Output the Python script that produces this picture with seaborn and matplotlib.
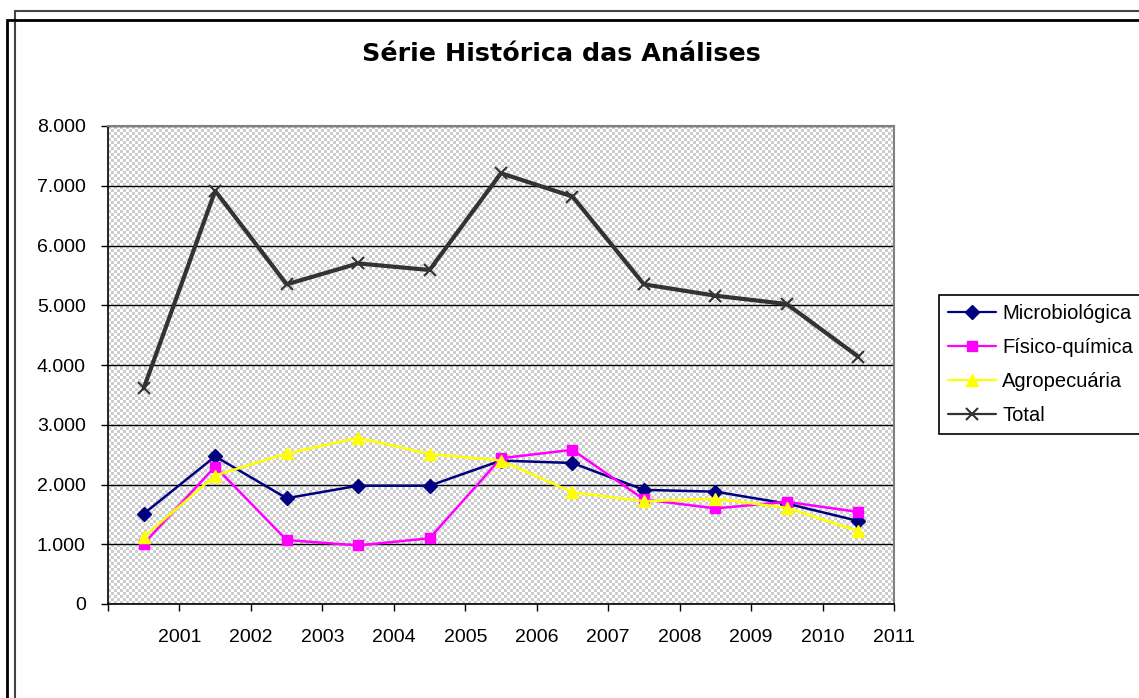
import numpy as np
import pandas as pd
import matplotlib
matplotlib.use("Agg")
import matplotlib.pyplot as plt
from matplotlib.patches import Rectangle
import seaborn as sns

# ---- data ----
years = ["2001", "2002", "2003", "2004", "2005", "2006", "2007", "2008", "2009", "2010", "2011"]
microbiologica = [1510, 2470, 1770, 1980, 1980, 2400, 2360, 1910, 1880, 1680, 1390]
fisico_quimica = [1010, 2300, 1070, 980, 1100, 2440, 2580, 1750, 1600, 1710, 1540]
agropecuaria = [1120, 2150, 2520, 2780, 2510, 2400, 1870, 1720, 1760, 1610, 1220]
total = [3610, 6915, 5350, 5700, 5590, 7210, 6820, 5350, 5160, 5020, 4140]
series_names = ["Microbiológica", "Físico-química", "Agropecuária", "Total"]

sns.set_style("white")
plt.rcParams['font.family'] = ['Liberation Sans', 'DejaVu Sans']
plt.rcParams['text.color'] = 'black'
plt.rcParams['xtick.color'] = 'black'
plt.rcParams['ytick.color'] = 'black'
plt.rcParams['axes.labelcolor'] = 'black'

W, H = 1139, 698
fig = plt.figure(figsize=(W / 100, H / 100), dpi=100)
fig.patch.set_facecolor("white")

def fx(px):
    return px / W

def fy(py):
    return 1 - py / H

# outer double frame
fig.patches.append(Rectangle((fx(15), fy(720)), fx(1160) - fx(15), fy(11) - fy(720),
                             transform=fig.transFigure, fill=False, edgecolor="#444444", lw=1.5, zorder=0))
fig.patches.append(Rectangle((fx(6.5), fy(720)), fx(1160) - fx(6.5), fy(19.5) - fy(720),
                             transform=fig.transFigure, fill=False, edgecolor="black", lw=2, zorder=0))

left, right, top, bottom = 108, 894, 126, 604
ax = fig.add_axes([fx(left), fy(bottom), fx(right) - fx(left), fy(top) - fy(bottom)])

# checkered background
nx, ny = (right - left) // 3, (bottom - top) // 3
checker = (np.add.outer(np.arange(ny), np.arange(nx)) % 2).astype(float)
ax.imshow(checker, cmap=matplotlib.colors.ListedColormap(["#cdcdcd", "#ffffff"]),
          extent=[0, 1, 0, 1], transform=ax.transAxes, aspect="auto",
          interpolation="nearest", zorder=0)

pos = np.arange(len(years))
df = pd.DataFrame({"pos": pos, series_names[0]: microbiologica, series_names[1]: fisico_quimica,
                   series_names[2]: agropecuaria, series_names[3]: total})

styles = [
    dict(color="#000080", marker="D", markersize=7, linewidth=1.8, mew=1),
    dict(color="#ff00ff", marker="s", markersize=7.5, linewidth=1.8, mew=1),
    dict(color="#ffff00", marker="^", markersize=9, linewidth=1.8, mew=1),
    dict(color="#333333", marker="x", markersize=9, linewidth=3, mew=1.5),
]
for name, st in zip(series_names, styles):
    sns.lineplot(data=df, x="pos", y=name, ax=ax, label=name, color=st["color"],
                 marker=st["marker"], markersize=st["markersize"], linewidth=st["linewidth"],
                 markeredgecolor=st["color"], markerfacecolor=st["color"],
                 markeredgewidth=st["mew"], zorder=3)

ax.set_ylim(0, 8000)
ax.set_yticks(np.arange(0, 8001, 1000))
ax.set_yticklabels(["0"] + [f"{v // 1000}.000" for v in range(1000, 8001, 1000)])
ax.set_xlabel("")
ax.set_ylabel("")
ax.yaxis.grid(True, color="black", linewidth=1)
ax.xaxis.grid(False)
ax.set_axisbelow(True)

ax.tick_params(axis="y", direction="out", length=5, width=1, color="black", pad=11, labelsize=14)
ax.tick_params(axis="x", direction="out", length=5, width=1, color="black", pad=13, labelsize=14)
ax.tick_params(left=True, bottom=True)
for s in ["left", "bottom"]:
    ax.spines[s].set_color("black")
    ax.spines[s].set_linewidth(1.2)
for s in ["top", "right"]:
    ax.spines[s].set_color("#808080")
    ax.spines[s].set_linewidth(1.5)

# year labels sit on the category boundaries
ax.set_xticks(np.arange(-0.5, len(years) + 0.5, 1.0))
ax.set_xticklabels([""] + years)
ax.set_xlim(-0.5, len(years) - 0.5)

fig.text(fx(561), fy(54), "Série Histórica das Análises", ha="center", va="center",
         fontsize=18.3, fontweight="bold", family=["DejaVu Sans"], color="black")

leg = ax.legend(loc="upper left", bbox_to_anchor=(fx(939), fy(295)), bbox_transform=fig.transFigure,
                frameon=True, fancybox=False, edgecolor="black", fontsize=14.5,
                handlelength=2.4, handletextpad=0.3, labelspacing=0.75, borderpad=0.45,
                borderaxespad=0, framealpha=1)
leg.get_frame().set_linewidth(1.2)
for t in leg.get_texts():
    t.set_color("black")
for h in leg.legend_handles:
    h.set_linewidth(1.6)

fig.savefig("out.png", dpi=100, facecolor="white")
